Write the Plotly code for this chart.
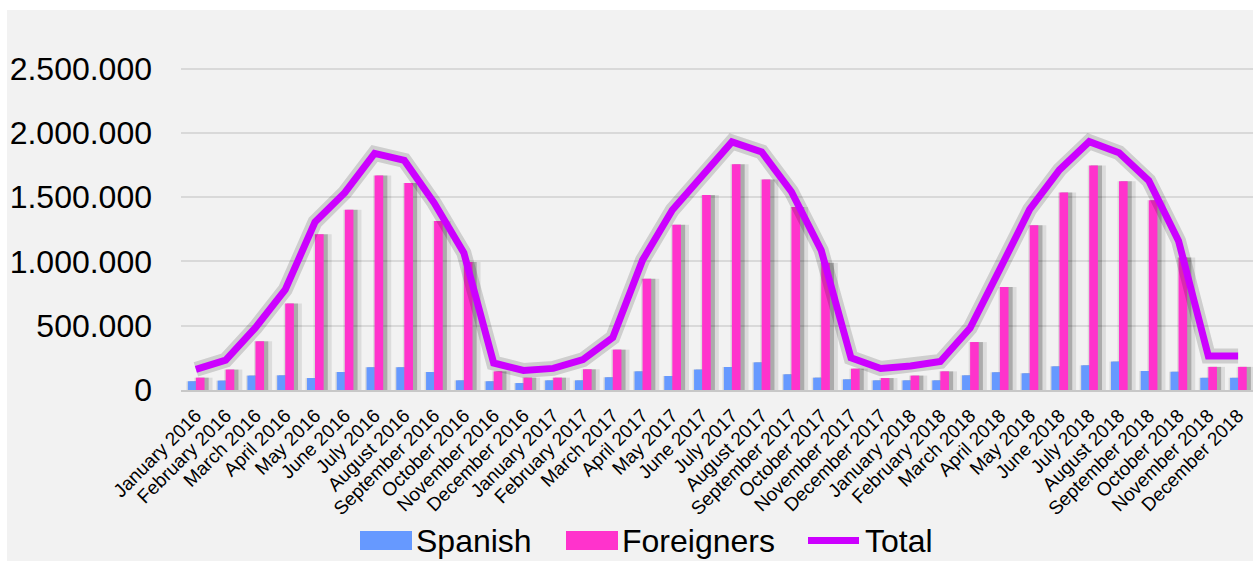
import plotly.graph_objects as go

# Monthly overnight guests, 2016-2018
months = [
    "January 2016", "February 2016", "March 2016", "April 2016", "May 2016", "June 2016",
    "July 2016", "August 2016", "September 2016", "October 2016", "November 2016", "December 2016",
    "January 2017", "February 2017", "March 2017", "April 2017", "May 2017", "June 2017",
    "July 2017", "August 2017", "September 2017", "October 2017", "November 2017", "December 2017",
    "January 2018", "February 2018", "March 2018", "April 2018", "May 2018", "June 2018",
    "July 2018", "August 2018", "September 2018", "October 2018", "November 2018", "December 2018",
]

spanish = [
    68000, 73000, 112000, 114000, 93000, 140000, 177000, 177000, 140000, 75000, 68000, 54000,
    75000, 75000, 99000, 145000, 109000, 159000, 179000, 215000, 122000, 96000, 83000, 75000,
    75000, 75000, 114000, 138000, 130000, 184000, 192000, 221000, 148000, 142000, 95000, 95000,
]

foreigners = [
    96000, 159000, 379000, 672000, 1211000, 1403000, 1669000, 1610000, 1314000, 995000, 145000, 96000,
    96000, 161000, 314000, 866000, 1286000, 1516000, 1755000, 1638000, 1423000, 990000, 166000, 93000,
    112000, 145000, 373000, 801000, 1281000, 1537000, 1747000, 1623000, 1475000, 1030000, 180000, 180000,
]

total = [
    160000, 232000, 485000, 780000, 1306000, 1535000, 1840000, 1786000, 1456000, 1066000, 210000, 152000,
    168000, 236000, 408000, 1010000, 1400000, 1665000, 1930000, 1852000, 1542000, 1086000, 250000, 167000,
    187000, 222000, 482000, 940000, 1405000, 1712000, 1932000, 1845000, 1628000, 1160000, 265000, 265000,
]

y_ticks = [0, 500000, 1000000, 1500000, 2000000, 2500000]

BLUE = "#6699ff"
PINK = "#ff33cc"
PURPLE = "#cc00ff"
FONT = "Liberation Sans, Arial, sans-serif"

W, H = 1253, 561
ML, MR, MT, MB = 181, 0, 20, 171
PW, PH = W - ML - MR, H - MT - MB


def px_x(x):
    return (x - ML) / PW


def px_y(y):
    return (H - MB - y) / PH


fig = go.Figure()

# soft drop shadows behind the bars
for vals, off, wid in [(spanish, -0.27, 0.27), (foreigners, 0.0, 0.29)]:
    fig.add_bar(x=months, y=vals, offset=off - 0.05, width=wid + 0.32,
                marker=dict(color="rgba(0,0,0,0.09)", line_width=0),
                showlegend=False, hoverinfo="skip")
    fig.add_bar(x=months, y=vals, offset=off + 0.06, width=wid + 0.08,
                marker=dict(color="rgba(0,0,0,0.22)", line_width=0),
                showlegend=False, hoverinfo="skip")

fig.add_bar(x=months, y=spanish, name="Spanish", offset=-0.27, width=0.27,
            marker=dict(color=BLUE, line_width=0))
fig.add_bar(x=months, y=foreigners, name="Foreigners", offset=0.0, width=0.29,
            marker=dict(color=PINK, line_width=0))

# halo under the total line
fig.add_scatter(x=months, y=total, mode="lines", showlegend=False, hoverinfo="skip",
                line=dict(color="rgba(0,0,0,0.15)", width=15))
fig.add_scatter(x=months, y=total, mode="lines", name="Total",
                line=dict(color=PURPLE, width=7))

# legend drawn as swatches + labels
shapes = [
    dict(type="rect", xref="paper", yref="paper", x0=-1, x1=px_x(7), y0=-1, y1=2,
         fillcolor="white", line_width=0, layer="above"),
    dict(type="rect", xref="paper", yref="paper", x0=-1, x1=2, y0=px_y(10), y1=2,
         fillcolor="white", line_width=0, layer="above"),
    dict(type="rect", xref="paper", yref="paper", x0=px_x(360), x1=px_x(412),
         y0=px_y(550), y1=px_y(531), fillcolor=BLUE, line_width=0),
    dict(type="rect", xref="paper", yref="paper", x0=px_x(566), x1=px_x(618),
         y0=px_y(550), y1=px_y(531), fillcolor=PINK, line_width=0),
    dict(type="line", xref="paper", yref="paper", x0=px_x(808), x1=px_x(859),
         y0=px_y(540.5), y1=px_y(540.5), line=dict(color=PURPLE, width=7)),
]
annotations = [
    dict(text=t, x=px_x(xp), y=px_y(541), xref="paper", yref="paper", showarrow=False,
         xanchor="left", yanchor="middle", font=dict(family=FONT, size=32, color="black"))
    for t, xp in [("Spanish", 414), ("Foreigners", 620), ("Total", 863)]
]

fig.update_layout(
    width=W, height=H,
    margin=dict(l=ML, r=MR, t=MT, b=MB, pad=0),
    paper_bgcolor="#f2f2f2", plot_bgcolor="#f2f2f2",
    barmode="overlay", showlegend=False,
    separators=",.",
    font=dict(family=FONT, color="black"),
    shapes=shapes, annotations=annotations,
    xaxis=dict(type="category", tickangle=-45, tickfont=dict(size=19),
               showgrid=False, showline=True, linecolor="#c8c8c8", linewidth=2,
               ticks="", ticklabelstandoff=5, range=[-0.5, 35.5]),
    yaxis=dict(range=[0, 2878000], tickvals=y_ticks, tickformat=",d",
               tickfont=dict(size=32), showgrid=True, gridcolor="#d9d9d9", gridwidth=2,
               zeroline=False, showline=False, ticks="", ticklabelstandoff=28),
)

fig.write_html("out.html")
